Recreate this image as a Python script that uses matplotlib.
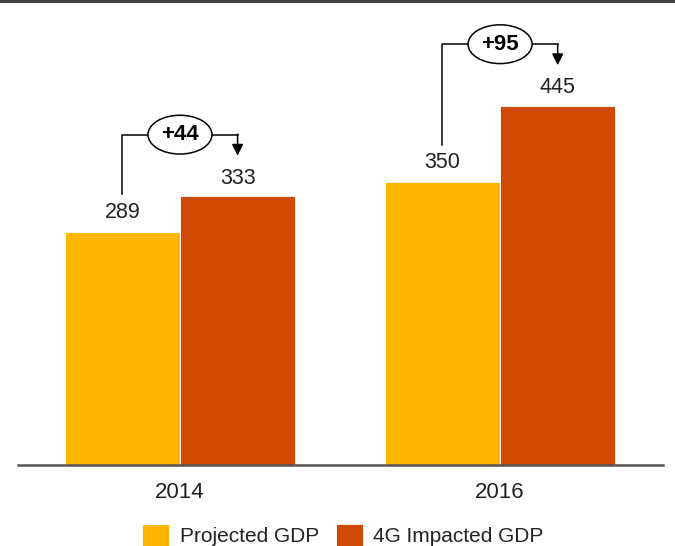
import matplotlib.pyplot as plt
from matplotlib.patches import Ellipse, Rectangle
import numpy as np

plt.rcParams['font.family'] = ['Liberation Sans', 'DejaVu Sans']

years = ['2014', '2016']
projected = [289, 350]
impacted = [333, 445]
series_names = ['Projected GDP', '4G Impacted GDP']

YELLOW = '#FFB600'
ORANGE = '#D04A02'
TEXT = '#222222'

W, H = 675, 546
fig = plt.figure(figsize=(W / 100, H / 100), dpi=100)

# plot area: baseline at y=465px, x from 18px to 663px
ax = fig.add_axes([18 / W, (H - 465) / H, 645 / W, 462 / H])
x = np.arange(len(years))
bw = 0.36
ax.bar(x - bw / 2, projected, bw, color=YELLOW, edgecolor='white', linewidth=0.6, label=series_names[0])
ax.bar(x + bw / 2, impacted, bw, color=ORANGE, edgecolor='white', linewidth=0.6, label=series_names[1])

ax.set_xlim(-0.506, 1.509)
ax.set_ylim(0, 572)

for xi, p, q in zip(x, projected, impacted):
    ax.text(xi - bw / 2, p + 24, f'{p}', ha='center', va='center', fontsize=15.5, color=TEXT)
    ax.text(xi + bw / 2, q + 22, f'{q}', ha='center', va='center', fontsize=15.5, color=TEXT)
    top = q + 76
    # bracket from the projected label up, across, and down to the impacted label
    ax.plot([xi - bw / 2, xi - bw / 2, xi - 0.1], [p + 46, top, top], color='black', lw=1.1)
    ax.plot([xi + 0.1, xi + bw / 2], [top, top], color='black', lw=1.1)
    ax.annotate('', xy=(xi + bw / 2, q + 50), xytext=(xi + bw / 2, top + 0.5),
                arrowprops=dict(arrowstyle='-|>', color='black', lw=1.1,
                                mutation_scale=17, shrinkA=0, shrinkB=0))
    ax.add_patch(Ellipse((xi, top), 0.2, 48, facecolor='white', edgecolor='black', lw=1.1, zorder=3))
    ax.text(xi, top, f'+{q - p}', ha='center', va='center', fontsize=16,
            fontweight='bold', color='black', zorder=4)

for s in ['top', 'right', 'left']:
    ax.spines[s].set_visible(False)
ax.spines['bottom'].set_color('#555555')
ax.spines['bottom'].set_linewidth(1.8)
ax.set_yticks([])
ax.set_xticks(x)
ax.set_xticklabels(years, fontsize=16, color=TEXT)
ax.tick_params(axis='x', length=0, pad=12)

# dark rule along the top edge
fig.add_artist(Rectangle((0, 1 - 3 / H), 1, 3 / H, transform=fig.transFigure,
                         color='#444444', lw=0))

fig.legend(loc='center', bbox_to_anchor=(343 / W, 1 - 535 / H), ncol=2, frameon=False,
           fontsize=15, handlelength=1.3, handleheight=1.2, handletextpad=0.5,
           columnspacing=0.8, labelcolor=TEXT)

fig.savefig('out.png', dpi=100)
